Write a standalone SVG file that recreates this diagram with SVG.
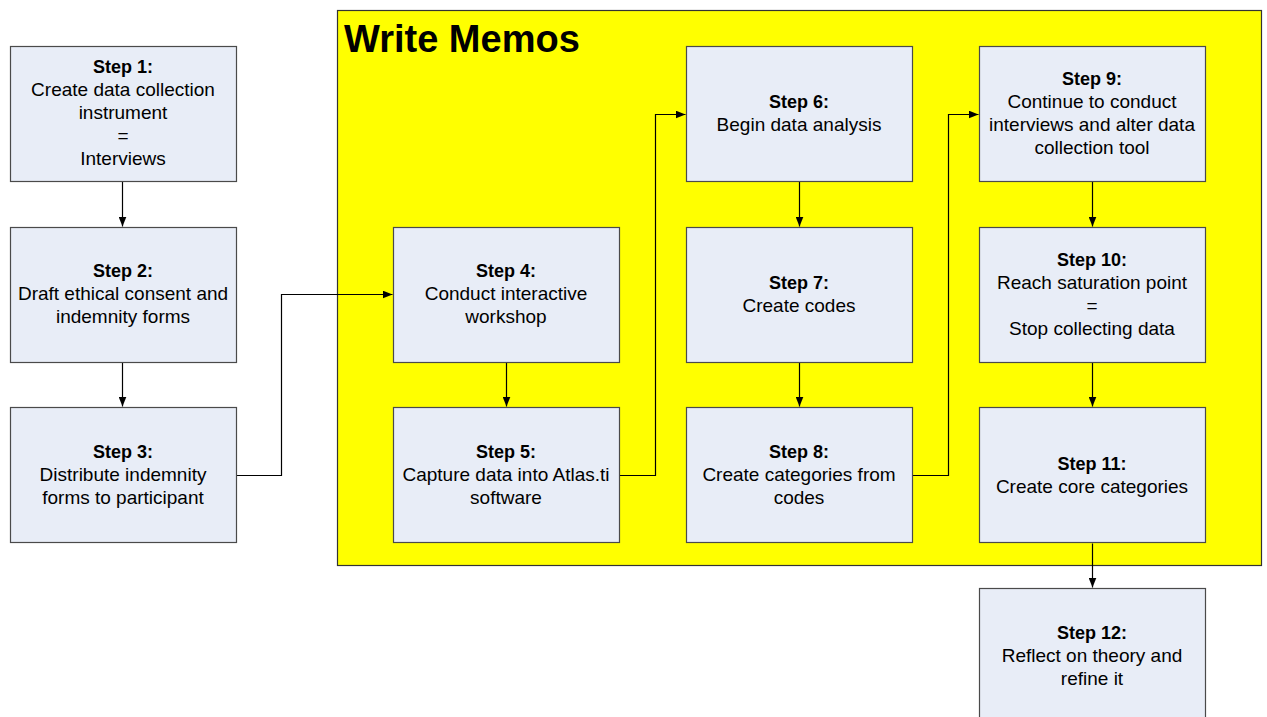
<svg xmlns="http://www.w3.org/2000/svg" width="1267" height="717" viewBox="0 0 1267 717">
<defs>
<marker id="ah" viewBox="0 0 10 8" refX="10" refY="4" markerWidth="10" markerHeight="8" markerUnits="userSpaceOnUse" orient="auto">
<path d="M0,0 L10,4 L0,8 Z" fill="#000"/>
</marker>
<style>
.box{fill:#e8edf7;stroke:#4a4a4a;stroke-width:1.2}
.t{font-family:"Liberation Sans",Arial,sans-serif;font-size:19px;fill:#000;text-anchor:middle}
.b{font-weight:bold;font-size:18px}
.c{fill:none;stroke:#000;stroke-width:1.2;marker-end:url(#ah)}
</style>
</defs>
<rect x="0" y="0" width="1267" height="717" fill="#fff"/>
<g id="memos">
<rect x="337.5" y="10.5" width="924" height="555" fill="#ffff00" stroke="#333" stroke-width="1.2"/>
<text x="344" y="52" font-family="Liberation Sans,Arial,sans-serif" font-size="38" font-weight="bold">Write Memos</text>
</g>
<g id="connectors">
<path class="c" d="M122.5,181.5 V226.5"/>
<path class="c" d="M122.5,362.5 V406.5"/>
<path class="c" d="M236.5,475.5 H281.5 V294.5 H392.5"/>
<path class="c" d="M506.5,362.5 V406.5"/>
<path class="c" d="M619.5,475.5 H655.5 V114.5 H685.5"/>
<path class="c" d="M799.5,181.5 V226.5"/>
<path class="c" d="M799.5,362.5 V406.5"/>
<path class="c" d="M912.5,475.5 H948.5 V114.5 H978.5"/>
<path class="c" d="M1092.5,181.5 V226.5"/>
<path class="c" d="M1092.5,362.5 V406.5"/>
<path class="c" d="M1092.5,543.5 V587.5"/>
</g>
<g id="step1"><rect class="box" x="10.5" y="46.5" width="226" height="135"/>
<text class="t"><tspan class="b" x="123" y="73">Step 1:</tspan><tspan x="123" y="96">Create data collection</tspan><tspan x="123" y="119">instrument</tspan><tspan x="123" y="142">=</tspan><tspan x="123" y="165">Interviews</tspan></text></g>
<g id="step2"><rect class="box" x="10.5" y="227.5" width="226" height="135"/>
<text class="t"><tspan class="b" x="123" y="277">Step 2:</tspan><tspan x="123" y="300">Draft ethical consent and</tspan><tspan x="123" y="323">indemnity forms</tspan></text></g>
<g id="step3"><rect class="box" x="10.5" y="407.5" width="226" height="135"/>
<text class="t"><tspan class="b" x="123" y="458">Step 3:</tspan><tspan x="123" y="481">Distribute indemnity</tspan><tspan x="123" y="504">forms to participant</tspan></text></g>
<g id="step4"><rect class="box" x="393.5" y="227.5" width="226" height="135"/>
<text class="t"><tspan class="b" x="506" y="277">Step 4:</tspan><tspan x="506" y="300">Conduct interactive</tspan><tspan x="506" y="323">workshop</tspan></text></g>
<g id="step5"><rect class="box" x="393.5" y="407.5" width="226" height="135"/>
<text class="t"><tspan class="b" x="506" y="458">Step 5:</tspan><tspan x="506" y="481">Capture data into Atlas.ti</tspan><tspan x="506" y="504">software</tspan></text></g>
<g id="step6"><rect class="box" x="686.5" y="46.5" width="226" height="135"/>
<text class="t"><tspan class="b" x="799" y="108">Step 6:</tspan><tspan x="799" y="131">Begin data analysis</tspan></text></g>
<g id="step7"><rect class="box" x="686.5" y="227.5" width="226" height="135"/>
<text class="t"><tspan class="b" x="799" y="289">Step 7:</tspan><tspan x="799" y="312">Create codes</tspan></text></g>
<g id="step8"><rect class="box" x="686.5" y="407.5" width="226" height="135"/>
<text class="t"><tspan class="b" x="799" y="458">Step 8:</tspan><tspan x="799" y="481">Create categories from</tspan><tspan x="799" y="504">codes</tspan></text></g>
<g id="step9"><rect class="box" x="979.5" y="46.5" width="226" height="135"/>
<text class="t"><tspan class="b" x="1092" y="85">Step 9:</tspan><tspan x="1092" y="108">Continue to conduct</tspan><tspan x="1092" y="131">interviews and alter data</tspan><tspan x="1092" y="154">collection tool</tspan></text></g>
<g id="step10"><rect class="box" x="979.5" y="227.5" width="226" height="135"/>
<text class="t"><tspan class="b" x="1092" y="266">Step 10:</tspan><tspan x="1092" y="289">Reach saturation point</tspan><tspan x="1092" y="312">=</tspan><tspan x="1092" y="335">Stop collecting data</tspan></text></g>
<g id="step11"><rect class="box" x="979.5" y="407.5" width="226" height="135"/>
<text class="t"><tspan class="b" x="1092" y="470">Step 11:</tspan><tspan x="1092" y="493">Create core categories</tspan></text></g>
<g id="step12"><rect class="box" x="979.5" y="588.5" width="226" height="135"/>
<text class="t"><tspan class="b" x="1092" y="639">Step 12:</tspan><tspan x="1092" y="662">Reflect on theory and</tspan><tspan x="1092" y="685">refine it</tspan></text></g>
</svg>
